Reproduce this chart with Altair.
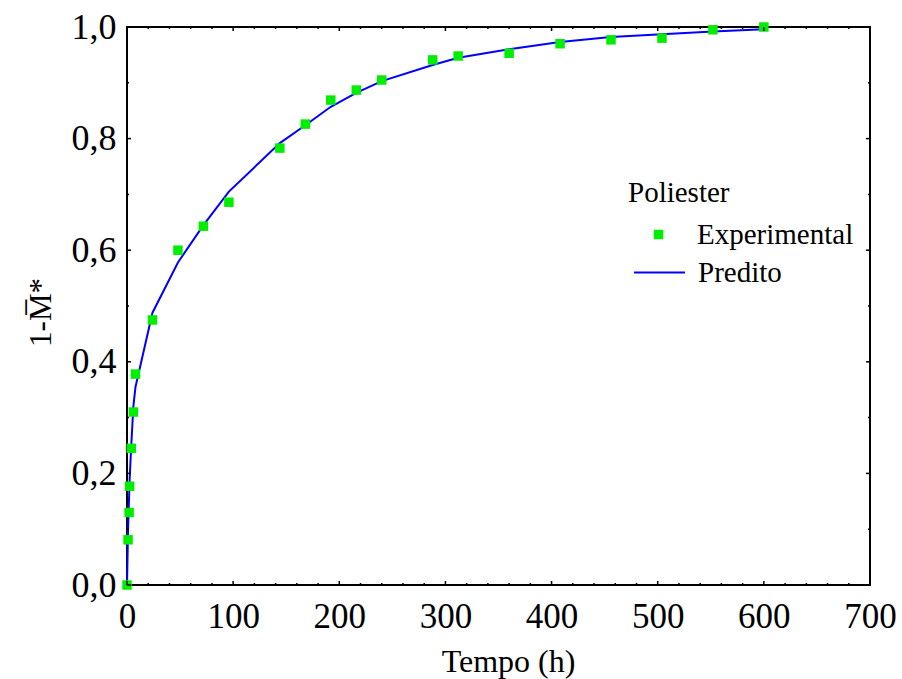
import altair as alt
import pandas as pd

# ---- data ----
tempo = [0, 1, 2, 2.5, 4, 6, 8, 24, 48, 72, 96, 144, 168, 192, 216, 240,
         288, 312, 360, 408, 456, 504, 552, 600]
experimental = [0.0, 0.081, 0.130, 0.177, 0.245, 0.310, 0.378, 0.475, 0.600,
                0.643, 0.686, 0.783, 0.826, 0.869, 0.887, 0.905, 0.941, 0.948,
                0.953, 0.970, 0.977, 0.980, 0.995, 1.0]
predito = [0.0, 0.10, 0.16, 0.19, 0.25, 0.32, 0.355, 0.488, 0.578, 0.645,
           0.705, 0.792, 0.824, 0.857, 0.882, 0.903, 0.932, 0.945, 0.960,
           0.973, 0.982, 0.987, 0.992, 0.996]
series_names = ["Experimental", "Predito"]
x_major = [0, 100, 200, 300, 400, 500, 600, 700]
x_minor = [v for v in range(0, 701, 20) if v % 100 != 0]
y_major = [0.0, 0.2, 0.4, 0.6, 0.8, 1.0]
y_minor = [0.1, 0.3, 0.5, 0.7, 0.9]

W, H = 743, 558
FONT = "Liberation Serif"

df_exp = pd.DataFrame({"t": tempo, "v": experimental, "series": series_names[0]})
df_pred = pd.DataFrame({"t": tempo, "v": predito, "series": series_names[1]})

xs = alt.Scale(domain=[0, 700], nice=False, zero=False)
ys = alt.Scale(domain=[0, 1], nice=False, zero=False)

leg_common = dict(
    orient="none", labelFont=FONT, labelFontSize=29, labelColor="black",
    padding=0,
)
fill_legend = alt.Legend(
    title="Poliester", legendX=501, legendY=152,
    titleFont=FONT, titleFontSize=29, titleFontWeight="normal", titleColor="black",
    titlePadding=12, symbolType="square", symbolSize=90, symbolOffset=16,
    symbolStrokeWidth=0, labelOffset=24, **leg_common,
)
stroke_legend = alt.Legend(
    title=None, legendX=506, legendY=219,
    symbolType="stroke", symbolSize=2601, symbolStrokeWidth=2,
    labelOffset=12, **leg_common,
)

xaxis = alt.Axis(values=x_major, ticks=False, domain=False, grid=False,
                 labelFont=FONT, labelFontSize=35, labelColor="black",
                 labelPadding=14, labelFlush=False, title="Tempo (h)", titleFont=FONT,
                 titleFontSize=32, titleFontWeight="normal", titleColor="black",
                 titlePadding=12, titleX=381, titleAlign="center")
yaxis = alt.Axis(values=y_major, ticks=False, domain=False, grid=False,
                 labelFont=FONT, labelFontSize=36, labelColor="black",
                 labelPadding=11,
                 labelExpr="replace(format(datum.value, '.1f'), '.', ',')",
                 title="1-M\u0305*", titleFont=FONT, titleFontSize=31,
                 titleFontWeight="normal", titleColor="black", titlePadding=14,
                 titleY=285)

line = alt.Chart(df_pred).mark_line(strokeWidth=2, clip=False).encode(
    x=alt.X("t:Q", scale=xs, axis=xaxis),
    y=alt.Y("v:Q", scale=ys, axis=yaxis),
    stroke=alt.Stroke("series:N",
                      scale=alt.Scale(domain=[series_names[1]], range=["#0000ff"]),
                      legend=stroke_legend),
)
pts = alt.Chart(df_exp).mark_point(shape="square", filled=True, size=90,
                                    opacity=1, clip=False).encode(
    x=alt.X("t:Q", scale=xs),
    y=alt.Y("v:Q", scale=ys),
    fill=alt.Fill("series:N",
                  scale=alt.Scale(domain=[series_names[0]], range=["#00ee00"]),
                  legend=fill_legend),
)

def xticks(vals, length):
    d = pd.DataFrame({"t": vals})
    b = alt.Chart(d).mark_rule(color="black", strokeWidth=1.5).encode(
        x=alt.X("t:Q", scale=xs), y=alt.value(H), y2=alt.value(H - length))
    t = alt.Chart(d).mark_rule(color="black", strokeWidth=1.5).encode(
        x=alt.X("t:Q", scale=xs), y=alt.value(0), y2=alt.value(length))
    return [b, t]

def yticks(vals, length):
    d = pd.DataFrame({"v": vals})
    l = alt.Chart(d).mark_rule(color="black", strokeWidth=1.5).encode(
        y=alt.Y("v:Q", scale=ys), x=alt.value(0), x2=alt.value(length))
    r = alt.Chart(d).mark_rule(color="black", strokeWidth=1.5).encode(
        y=alt.Y("v:Q", scale=ys), x=alt.value(W), x2=alt.value(W - length))
    return [l, r]

tick_layers = xticks(x_major, 4) + xticks(x_minor, 2) + yticks(y_major, 4) + yticks(y_minor, 2)

chart = alt.layer(line, pts, *tick_layers).resolve_scale(
    fill="independent", stroke="independent"
).properties(
    width=W, height=H,
    autosize=alt.AutoSizeParams(type="none"),
    padding={"left": 127, "top": 27, "right": 32, "bottom": 94},
    background="white",
).configure(font=FONT).configure_legend(
    labelFont=FONT, titleFont=FONT
).configure_axis(labelFont=FONT, titleFont=FONT
).configure_view(stroke="black", strokeWidth=2)

chart.save("out.html", embed_options={"renderer": "svg", "actions": False})
